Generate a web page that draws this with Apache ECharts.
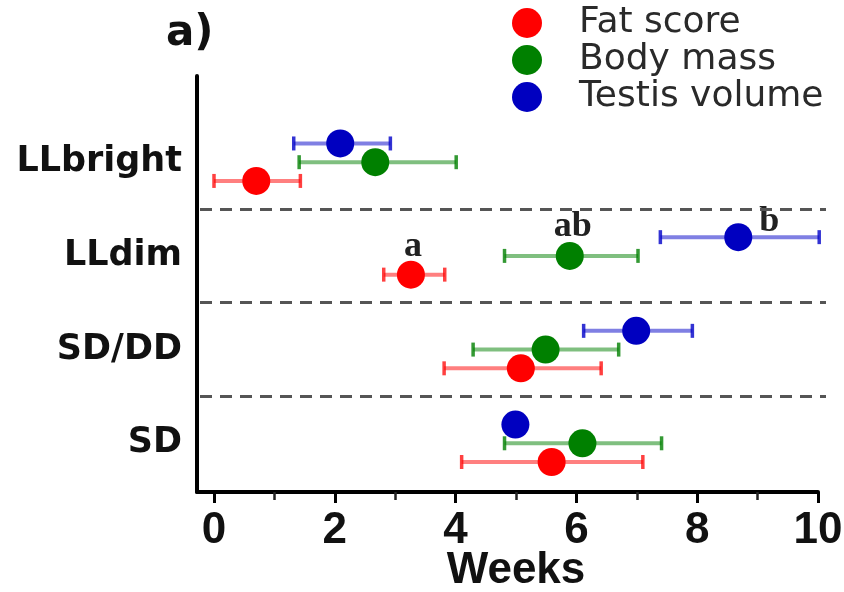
<!DOCTYPE html>
<html>
<head>
<meta charset="utf-8">
<script src="https://cdn.jsdelivr.net/npm/echarts@6/dist/echarts.min.js"></script>
<style>html,body{margin:0;padding:0;background:#fff;}#chart{width:844px;height:592px;}</style>
</head>
<body>
<div id="chart"></div>
<script>
// ---- data ----
const categories = ['LLbright', 'LLdim', 'SD/DD', 'SD'];
const xTicks = [0, 2, 4, 6, 8, 10];

const fatMean  = [0.70, 3.26, 5.08, 5.59];
const fatLow   = [0.00, 2.81, 3.81, 4.10];
const fatHigh  = [1.43, 3.82, 6.41, 7.10];

const massMean = [2.67, 5.89, 5.49, 6.10];
const massLow  = [1.41, 4.81, 4.29, 4.81];
const massHigh = [4.01, 7.02, 6.70, 7.41];

const testisMean = [2.09, 8.68, 6.99, 4.99];
const testisLow  = [1.32, 7.39, 6.12, null];
const testisHigh = [2.92, 10.02, 7.92, null];

const fatLetters    = ['', 'a', '', ''];
const massLetters   = ['', 'ab', '', ''];
const testisLetters = ['', 'b', '', ''];

// ---- styling / layout ----
const yMin = 0.48, yMax = 4.92;
const catValue = i => categories.length - i;   // LLbright at top

const seriesDefs = [
  {name: 'Fat score',     mean: fatMean,    low: fatLow,    high: fatHigh,    letters: fatLetters,
   color: '#ff0000', bar: 'rgba(255,0,0,0.5)',  cap: 'rgba(255,0,0,0.75)', dy: -0.2, labelOffset: [2, -28]},
  {name: 'Body mass',     mean: massMean,   low: massLow,   high: massHigh,   letters: massLetters,
   color: '#008000', bar: 'rgba(0,128,0,0.5)',  cap: 'rgba(0,128,0,0.8)', dy: 0,    labelOffset: [3, -29]},
  {name: 'Testis volume', mean: testisMean, low: testisLow, high: testisHigh, letters: testisLetters,
   color: '#0000c0', bar: 'rgba(0,0,200,0.5)', cap: 'rgba(0,0,200,0.8)', dy: 0.2,  labelOffset: [31, -15]}
];

function makeErrorSeries(d) {
  const data = [];
  d.mean.forEach((m, i) => {
    if (d.low[i] != null && d.high[i] != null) data.push([d.low[i], d.high[i], catValue(i) + d.dy]);
  });
  return {
    type: 'custom', xAxisIndex: 0, yAxisIndex: 0, z: 2, silent: true, clip: false,
    encode: {x: [0, 1], y: 2},
    data: data,
    renderItem: function (params, api) {
      const p1 = api.coord([api.value(0), api.value(2)]);
      const p2 = api.coord([api.value(1), api.value(2)]);
      const h = 7;
      return {type: 'group', children: [
        {type: 'line', shape: {x1: p1[0], y1: p1[1], x2: p2[0], y2: p2[1]}, style: {stroke: d.bar, lineWidth: 4}},
        {type: 'line', shape: {x1: p1[0], y1: p1[1] - h, x2: p1[0], y2: p1[1] + h}, style: {stroke: d.cap, lineWidth: 3.5}},
        {type: 'line', shape: {x1: p2[0], y1: p2[1] - h, x2: p2[0], y2: p2[1] + h}, style: {stroke: d.cap, lineWidth: 3.5}}
      ]};
    }
  };
}

function makePointSeries(d) {
  return {
    name: d.name, type: 'scatter', xAxisIndex: 0, yAxisIndex: 0, z: 3,
    symbol: 'circle', symbolSize: 28,
    itemStyle: {color: d.color, opacity: 1},
    data: d.mean.map((m, i) => {
      const item = {value: [m, catValue(i) + d.dy]};
      if (d.letters[i]) {
        item.label = {show: true, formatter: d.letters[i], position: 'inside', offset: d.labelOffset,
          fontFamily: 'Liberation Serif', fontWeight: 'bold', fontSize: 36, color: '#222'};
      }
      return item;
    })
  };
}

const series = [];
seriesDefs.forEach(d => series.push(makeErrorSeries(d)));
seriesDefs.forEach(d => series.push(makePointSeries(d)));
// dashed separators between groups
series.push({
  type: 'scatter', xAxisIndex: 2, yAxisIndex: 2, data: [], silent: true,
  markLine: {silent: true, symbol: ['none', 'none'], label: {show: false}, animation: false,
    lineStyle: {color: '#555', type: [12, 8], width: 3},
    data: [{yAxis: 1.5}, {yAxis: 2.5}, {yAxis: 3.5}]}
});

const option = {
  animation: false,
  backgroundColor: '#fff',
  graphic: [{type: 'text', left: 166, top: 13,
    style: {text: 'a)', fontFamily: 'DejaVu Sans', fontWeight: 'bold', fontSize: 42, fill: '#111'}}],
  legend: {
    data: seriesDefs.map(d => d.name), orient: 'vertical', left: 512, top: 5, padding: 0,
    itemWidth: 32, itemHeight: 30, itemGap: 1, icon: 'circle',
    textStyle: {fontFamily: 'DejaVu Sans', fontSize: 36, lineHeight: 36, color: '#2a2a2a', padding: [0, 0, 0, 31]}
  },
  grid: [
    {left: 214, right: 26, top: 76, bottom: 100, outerBoundsMode: 'none', containLabel: false},
    {left: 197, right: 26, top: 76, bottom: 100, outerBoundsMode: 'none', containLabel: false},
    {left: 200, right: 18, top: 76, bottom: 100, outerBoundsMode: 'none', containLabel: false}
  ],
  xAxis: [
    {gridIndex: 0, type: 'value', min: 0, max: 10, interval: 2,
     axisLine: {show: false},
     axisTick: {show: true, length: 11, lineStyle: {color: '#000', width: 3}},
     minorTick: {show: true, splitNumber: 2, length: 8, lineStyle: {color: '#222', width: 2.5}},
     splitLine: {show: false},
     axisLabel: {margin: 17, fontFamily: 'Liberation Sans', fontWeight: 'bold', fontSize: 44, color: '#111',
       formatter: v => (xTicks.indexOf(v) >= 0 ? String(v) : '')},
     name: 'Weeks', nameLocation: 'middle', nameGap: 57, nameMoveOverlap: false,
     nameTextStyle: {fontFamily: 'Liberation Sans', fontWeight: 'bold', fontSize: 44, color: '#111'}},
    {gridIndex: 1, type: 'value', min: 0, max: 1,
     axisLine: {show: true, onZero: false, lineStyle: {color: '#000', width: 4}},
     axisTick: {show: false}, axisLabel: {show: false}, splitLine: {show: false}},
    {gridIndex: 2, type: 'value', min: 0, max: 1, show: false}
  ],
  yAxis: [
    {gridIndex: 0, type: 'value', min: yMin, max: yMax,
     axisLine: {show: false}, axisTick: {show: false}, splitLine: {show: false},
     axisLabel: {customValues: categories.map((c, i) => catValue(i)), margin: 32,
       fontFamily: 'DejaVu Sans', fontWeight: 'bold', fontSize: 35, color: '#111',
       formatter: v => categories[categories.length - Math.round(v)]}},
    {gridIndex: 1, type: 'value', min: 0, max: 1,
     axisLine: {show: true, onZero: false, lineStyle: {color: '#000', width: 4}},
     axisTick: {show: false}, axisLabel: {show: false}, splitLine: {show: false}},
    {gridIndex: 2, type: 'value', min: yMin, max: yMax, show: false}
  ],
  series: series
};

const chart = echarts.init(document.getElementById('chart'), null, {renderer: 'canvas'});
chart.setOption(option);
</script>
</body>
</html>
